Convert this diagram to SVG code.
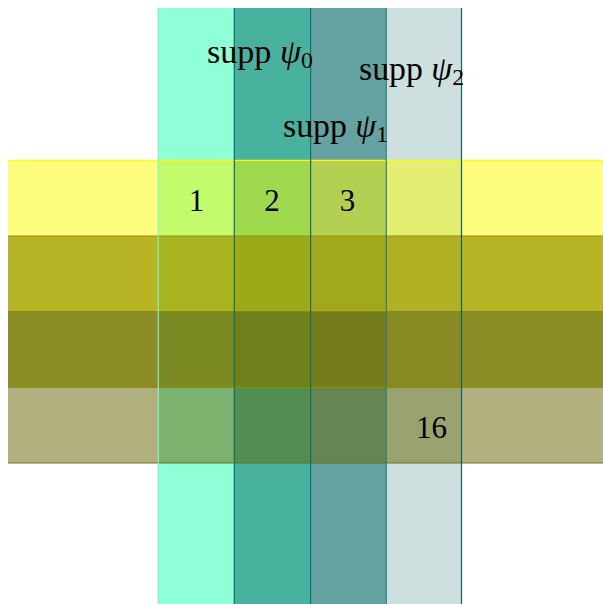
<svg xmlns="http://www.w3.org/2000/svg" width="603" height="604" viewBox="0 0 603 604">
<style>
.t{font-family:"Liberation Serif","DejaVu Serif",serif;font-size:31px;fill:#000}
.l{font-size:33px}
.i{font-style:italic}
.s{font-size:23px}
</style>
<rect width="603" height="604" fill="#fff"/>
<g id="columns">
<rect x="158" y="8" width="76" height="600" fill="#8FFFD8"/>
<rect x="234" y="8" width="76" height="600" fill="#48B29F"/>
<rect x="310" y="8" width="76" height="600" fill="#64A3A2"/>
<rect x="386" y="8" width="75.5" height="600" fill="#CDDFDF"/>
</g>
<g id="bands">
<rect x="8" y="160" width="600" height="76" fill="#FEFE7E"/>
<rect x="8" y="236" width="600" height="75.5" fill="#B7B525"/>
<rect x="8" y="311.5" width="600" height="76" fill="#8C8C27"/>
<rect x="8" y="387.5" width="600" height="75.5" fill="#B1B07F"/>
</g>
<g id="cells">
<rect x="158" y="160" width="76" height="76" fill="#C4FB6D"/>
<rect x="234" y="160" width="76" height="76" fill="#A0D84E"/>
<rect x="310" y="160" width="76" height="76" fill="#B3D052"/>
<rect x="386" y="160" width="75.5" height="76" fill="#E3EE72"/>
<rect x="158" y="236" width="76" height="75.5" fill="#A7B41F"/>
<rect x="234" y="236" width="76" height="75.5" fill="#9BAA18"/>
<rect x="310" y="236" width="76" height="75.5" fill="#A2A81B"/>
<rect x="386" y="236" width="75.5" height="75.5" fill="#B0B023"/>
<rect x="158" y="311.5" width="76" height="76" fill="#7B8A22"/>
<rect x="234" y="311.5" width="76" height="76" fill="#6F811B"/>
<rect x="310" y="311.5" width="76" height="76" fill="#757D1B"/>
<rect x="386" y="311.5" width="75.5" height="76" fill="#878922"/>
<rect x="158" y="387.5" width="76" height="75.5" fill="#7BB26E"/>
<rect x="234" y="387.5" width="76" height="75.5" fill="#548D52"/>
<rect x="310" y="387.5" width="76" height="75.5" fill="#658553"/>
<rect x="386" y="387.5" width="75.5" height="75.5" fill="#9AA370"/>
</g>
<g id="borders" fill="none" stroke-width="1.2">
<line x1="8" y1="160.3" x2="603" y2="160.3" stroke="#FFFF00"/>
<line x1="8" y1="236" x2="603" y2="236" stroke="#8F8F00"/>
<line x1="8" y1="311.5" x2="603" y2="311.5" stroke="#8A8A10"/>
<line x1="8" y1="387.5" x2="603" y2="387.5" stroke="#8F8F10"/>
<line x1="8" y1="463" x2="603" y2="463" stroke="#6E6E20"/>
<line x1="158.3" y1="8" x2="158.3" y2="604" stroke="#7FF5CF"/>
<line x1="234.3" y1="8" x2="234.3" y2="604" stroke="#0F6F6A"/>
<line x1="310.6" y1="8" x2="310.6" y2="604" stroke="#0F6F6A"/>
<line x1="386.3" y1="8" x2="386.3" y2="604" stroke="#2F7F7A"/>
<line x1="461.5" y1="8" x2="461.5" y2="604" stroke="#0F6060"/>
</g>
<g id="labels" class="t">
<text class="l" x="207" y="63" textLength="106" lengthAdjust="spacingAndGlyphs">supp <tspan class="i">ψ</tspan><tspan class="s" dy="5">0</tspan></text>
<text class="l" x="283" y="137" textLength="105" lengthAdjust="spacingAndGlyphs">supp <tspan class="i">ψ</tspan><tspan class="s" dy="5">1</tspan></text>
<text class="l" x="359" y="80" textLength="105" lengthAdjust="spacingAndGlyphs">supp <tspan class="i">ψ</tspan><tspan class="s" dy="5">2</tspan></text>
<text x="196.5" y="211" text-anchor="middle">1</text>
<text x="272" y="211" text-anchor="middle">2</text>
<text x="347.5" y="211" text-anchor="middle">3</text>
<text x="431.5" y="438" text-anchor="middle">16</text>
</g>
</svg>
